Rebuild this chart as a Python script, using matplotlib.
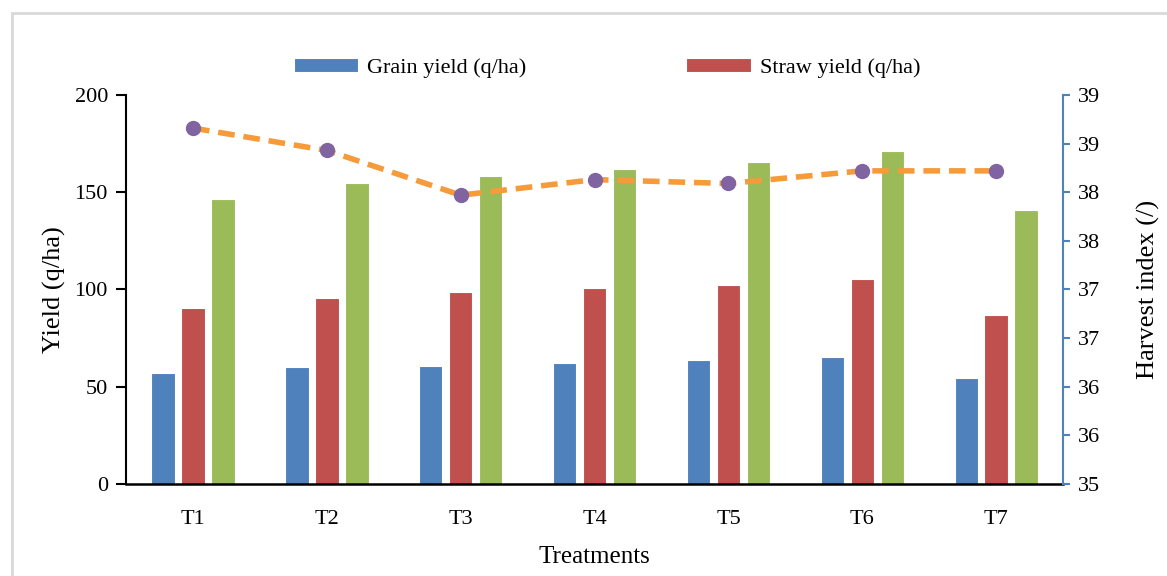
import numpy as np
import matplotlib.pyplot as plt
from matplotlib.patches import Rectangle

treatments = ['T1', 'T2', 'T3', 'T4', 'T5', 'T6', 'T7']
grain = [57, 60, 60.5, 62, 63.5, 65.5, 54.5]
straw = [90.5, 95.5, 98.5, 100.5, 102.5, 105.5, 87]
biological = [146.5, 155, 158.5, 162, 165.5, 171, 141]
harvest_index = [38.66, 38.43, 37.97, 38.13, 38.09, 38.22, 38.22]

hi_ticks = [35, 35.5, 36, 36.5, 37, 37.5, 38, 38.5, 39]
hi_labels = ['35', '36', '36', '37', '37', '38', '38', '39', '39']

plt.rcParams['font.family'] = ['Liberation Serif', 'DejaVu Serif']

fig = plt.figure(figsize=(11.67, 5.76), dpi=100)
ax = fig.add_axes([0.108, 0.160, 0.803, 0.675])

# outer chart frame (partly cut off like the screenshot)
fig.patches.append(Rectangle((12/1167, -0.1), 1.2, 1 - 13/576 + 0.1,
                             transform=fig.transFigure, fill=False,
                             edgecolor='#D9D9D9', lw=2))

x = np.arange(len(treatments))
w = 0.175
step = 0.224
b1 = ax.bar(x - step, grain, w, color='#4F81BD', edgecolor='white', lw=0.8,
            label='Grain yield (q/ha)')
b2 = ax.bar(x, straw, w, color='#C0504D', edgecolor='white', lw=0.8,
            label='Straw yield (q/ha)')
b3 = ax.bar(x + step, biological, w, color='#9BBB59', edgecolor='white', lw=0.8,
            label='Biological yield (q/ha)')

ax.set_xlim(-0.5, len(treatments) - 0.5)
ax.set_ylim(0, 200)
ax.set_yticks([0, 50, 100, 150, 200])
ax.set_xticks(x)
ax.set_xticklabels(treatments)
ax.tick_params(axis='y', direction='out', length=7, width=1.5, labelsize=16, pad=6)
ax.tick_params(axis='x', length=0, labelsize=16, pad=19)
ax.spines['top'].set_visible(False)
ax.spines['right'].set_visible(False)
ax.spines['left'].set_linewidth(1.5)
ax.spines['bottom'].set_linewidth(1.8)
ax.set_ylabel('Yield (q/ha)', fontsize=19, labelpad=6)
ax.set_xlabel('Treatments', fontsize=18, labelpad=12)

ax2 = ax.twinx()
ax2.plot(x, harvest_index, color='#F79A3A', lw=4, ls=(0, (3, 1.6)),
         marker='o', markersize=10, markerfacecolor='#8064A2',
         markeredgecolor='#8064A2', zorder=5)
ax2.set_ylim(35, 39)
ax2.set_yticks(hi_ticks)
ax2.set_yticklabels(hi_labels)
ax2.tick_params(axis='y', direction='out', length=5, width=1.5, color='#4F81BD',
                labelsize=16, pad=6)
for s in ['top', 'left', 'bottom']:
    ax2.spines[s].set_visible(False)
ax2.spines['right'].set_color('#4F81BD')
ax2.spines['right'].set_linewidth(1.5)
ax2.set_ylabel('Harvest index (/)', fontsize=19, labelpad=26)

fig.legend([b1, b2], ['Grain yield (q/ha)', 'Straw yield (q/ha)'],
           loc='center', bbox_to_anchor=(0.52, 0.882), ncol=2, frameon=False,
           fontsize=16, handlelength=2.9, handleheight=0.55, handletextpad=0.4,
           columnspacing=7.2)

fig.savefig('out.png', dpi=100)
